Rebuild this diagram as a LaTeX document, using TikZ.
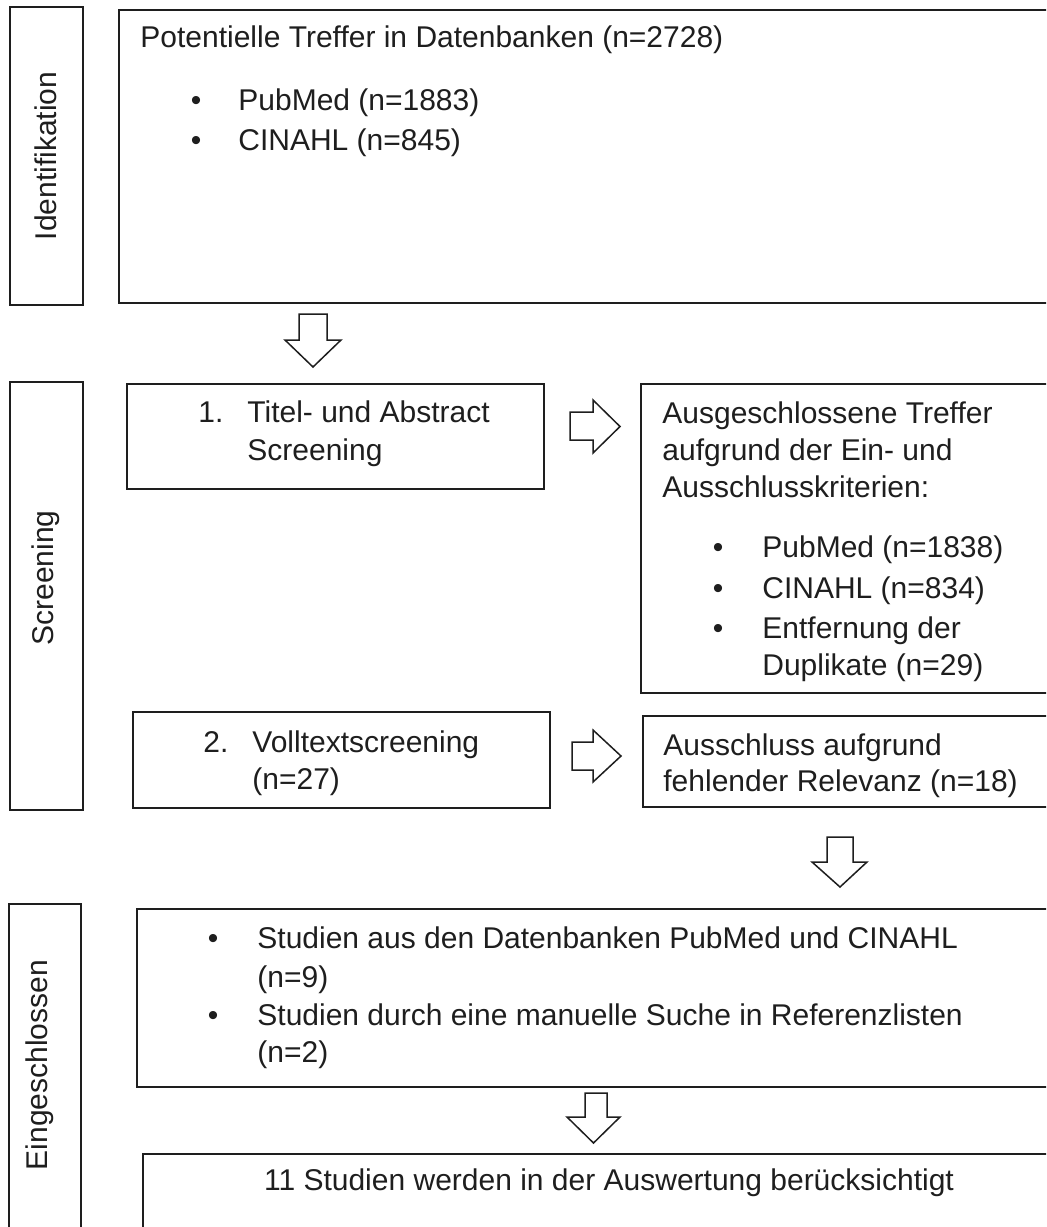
\documentclass[tikz,border=0pt]{standalone}
\usepackage{fontspec}
\setmainfont{Liberation Sans}
\usetikzlibrary{fit}
\definecolor{ink}{HTML}{1E1E1E}
\begin{document}
\begin{tikzpicture}[x=0.5pt,y=-0.5pt,
  box/.style={draw=ink, line width=1pt, inner sep=0pt},
  blk/.style={draw=ink, line width=0.75pt, fill=white, line join=miter},
  txt/.style={anchor=base west, inner sep=0pt, text=ink, font=\fontsize{15}{20}\selectfont},
  ctxt/.style={anchor=base, inner sep=0pt, text=ink, font=\fontsize{15}{20}\selectfont},
  bul/.style={anchor=base, inner sep=0pt, text=ink, font=\fontsize{15}{20}\selectfont},
  side/.style={rotate=90, inner sep=0pt, text=ink, font=\fontsize{15}{20}\selectfont}]
\useasboundingbox (0,0) rectangle (1046,1227);
\clip (0,0) rectangle (1046,1227);
% side boxes
\node[box, fit={(10,7)(83,305)}] (sid) {};
\node[box, fit={(10,382)(83,810)}] (ssc) {};
\node[box, fit={(9,904)(81,1240)}] (sein) {};
\node[side] (lid) at (46,156) {Identifikation};
\node[side] (lsc) at (46,578) {Screening};
\node[side] (lein) at (40,1065) {Eingeschlossen};
% main boxes
\node[box, fit={(119,10)(1060,303)}] (b1) {};
\node[box, fit={(127,384)(544,489)}] (b2) {};
\node[box, fit={(641,384)(1060,693)}] (b3) {};
\node[box, fit={(133,712)(550,808)}] (b4) {};
\node[box, fit={(643,716)(1060,807)}] (b5) {};
\node[box, fit={(137,909)(1060,1087)}] (b6) {};
\node[box, fit={(143,1154)(1075,1260)}] (b7) {};
% texts box 1
\node[txt] (t1) at (140,47) {Potentielle Treffer in Datenbanken (n=2728)};
\node[bul] (t1b1) at (196,110) {•};
\node[txt] (t1a) at (238,110) {PubMed (n=1883)};
\node[bul] (t1b2) at (196,150) {•};
\node[txt] (t1c) at (238,150) {CINAHL (n=845)};
% box 2
\node[txt] (t2n) at (198,422) {1.};
\node[txt] (t2a) at (247,422) {Titel- und Abstract};
\node[txt] (t2b) at (247,460) {Screening};
% box 3
\node[txt] (t3a) at (662,423) {Ausgeschlossene Treffer};
\node[txt] (t3b) at (662,460) {aufgrund der Ein- und};
\node[txt] (t3c) at (662,497) {Ausschlusskriterien:};
\node[bul] (t3d1) at (718,557) {•};
\node[txt] (t3d) at (762,557) {PubMed (n=1838)};
\node[bul] (t3e1) at (718,598) {•};
\node[txt] (t3e) at (762,598) {CINAHL (n=834)};
\node[bul] (t3f1) at (718,638) {•};
\node[txt] (t3f) at (762,638) {Entfernung der};
\node[txt] (t3g) at (762,675) {Duplikate (n=29)};
% box 4
\node[txt] (t4n) at (203,752) {2.};
\node[txt] (t4a) at (252,752) {Volltextscreening};
\node[txt] (t4b) at (252,789) {(n=27)};
% box 5
\node[txt] (t5a) at (663,755) {Ausschluss aufgrund};
\node[txt] (t5b) at (663,791) {fehlender Relevanz (n=18)};
% box 6
\node[bul] (t6b1) at (213,948) {•};
\node[txt] (t6a) at (257,948) {Studien aus den Datenbanken PubMed und CINAHL};
\node[txt] (t6b) at (257,987) {(n=9)};
\node[bul] (t6b2) at (213,1025) {•};
\node[txt] (t6c) at (257,1025) {Studien durch eine manuelle Suche in Referenzlisten};
\node[txt] (t6d) at (257,1062) {(n=2)};
% box 7
\node[ctxt] (t7) at (609,1190) {11 Studien werden in der Auswertung berücksichtigt};
% block arrows
\draw[blk] (299,314) -- (327,314) -- (327,340) -- (341,340) -- (313,367) -- (285,340) -- (299,340) -- cycle;
\draw[blk] (570,412) -- (593,412) -- (593,400) -- (620,426.5) -- (593,453) -- (593,440) -- (570,440) -- cycle;
\draw[blk] (572,742) -- (593,742) -- (593,730) -- (621,756) -- (593,782) -- (593,770) -- (572,770) -- cycle;
\draw[blk] (827,837) -- (853,837) -- (853,862) -- (867,862) -- (840,887) -- (812,862) -- (827,862) -- cycle;
\draw[blk] (585,1093) -- (607,1093) -- (607,1117) -- (620,1117) -- (593.5,1143) -- (567,1117) -- (585,1117) -- cycle;
\end{tikzpicture}
\end{document}
